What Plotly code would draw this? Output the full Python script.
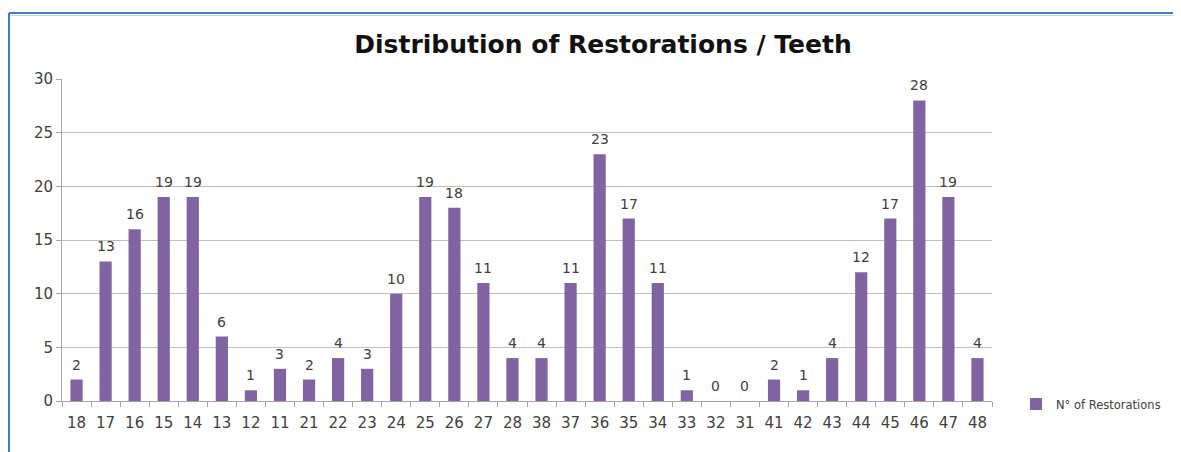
import plotly.graph_objects as go

teeth = ["18", "17", "16", "15", "14", "13", "12", "11", "21", "22", "23", "24", "25", "26", "27", "28",
         "38", "37", "36", "35", "34", "33", "32", "31", "41", "42", "43", "44", "45", "46", "47", "48"]
restorations = [2, 13, 16, 19, 19, 6, 1, 3, 2, 4, 3, 10, 19, 18, 11, 4,
                4, 11, 23, 17, 11, 1, 0, 0, 2, 1, 4, 12, 17, 28, 19, 4]
y_ticks = [0, 5, 10, 15, 20, 25, 30]

# page body has an 8px margin, so the figure is sized/positioned accordingly
W, H = 1173, 444
L, R, T, B = 54, 189, 71, 51
pw, ph = W - L - R, H - T - B
FONT = "DejaVu Sans"

fig = go.Figure()
fig.add_trace(go.Bar(
    x=teeth, y=restorations, name="N° of Restorations",
    marker=dict(color="#8064A2", line=dict(width=0)),
    width=0.42,
    showlegend=True,
))

# data labels (category axis positions are the category indices)
for i, v in enumerate(restorations):
    fig.add_annotation(x=i, y=v, xref="x", yref="y", text=str(v), showarrow=False,
                       xanchor="center", yanchor="bottom", yshift=5,
                       font=dict(family=FONT, size=14, color="#404040"))

fig.update_layout(
    width=W, height=H,
    margin=dict(l=L, r=R, t=T, b=B),
    paper_bgcolor="white", plot_bgcolor="white",
    title=dict(text="<b>Distribution of Restorations / Teeth</b>",
               x=595 / W, xanchor="center", y=1 - 36 / H, yanchor="middle",
               font=dict(family=FONT, size=25, color="#111111")),
    font=dict(family=FONT, color="#404040"),
    xaxis=dict(type="category", categoryorder="array", categoryarray=teeth,
               range=[-0.5, len(teeth) - 0.5], tickangle=0,
               tickfont=dict(family=FONT, size=15, color="#404040"),
               showline=True, linecolor="#a6a6a6", linewidth=1,
               ticks="outside", tickson="boundaries", ticklen=5, tickcolor="#a6a6a6",
               showgrid=False, ticklabelstandoff=8),
    yaxis=dict(range=[0, 30], tickvals=y_ticks, tickfont=dict(family=FONT, size=15, color="#404040"),
               showline=True, linecolor="#a6a6a6", linewidth=1,
               ticks="outside", ticklen=5, tickcolor="#a6a6a6",
               gridcolor="#bfbfbf", gridwidth=1, zeroline=False),
    legend=dict(x=(1008 - L) / pw, y=(T + ph - 396) / ph, xanchor="left", yanchor="middle",
                font=dict(family=FONT, size=11.5, color="#404040"), itemwidth=30,
                bgcolor="rgba(0,0,0,0)"),
    showlegend=True,
)

# outer chart frame (blue) with light shadow line
x_left = (1 - L) / pw
y_top = 1 + (T - 5) / ph
x_right = (W + 5 - L) / pw
fig.add_shape(type="line", xref="paper", yref="paper", x0=x_left, x1=x_right,
              y0=y_top, y1=y_top, line=dict(color="#3f7fc1", width=2))
fig.add_shape(type="line", xref="paper", yref="paper", x0=x_left + 1.5 / pw, x1=x_right,
              y0=y_top - 2.5 / ph, y1=y_top - 2.5 / ph, line=dict(color="#d0d0d0", width=1))
fig.add_shape(type="line", xref="paper", yref="paper", x0=x_left, x1=x_left,
              y0=y_top, y1=-(B + 5) / ph, line=dict(color="#3f7fc1", width=2))

fig.write_html("out.html")
